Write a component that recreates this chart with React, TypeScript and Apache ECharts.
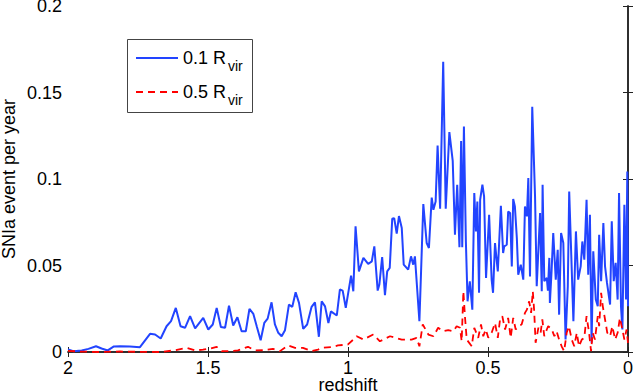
import React, { useEffect, useRef } from 'react';
import * as echarts from 'echarts';

// redshift (x) and SNIa event rate (y)
const blueZ = [2.0,1.981,1.951,1.927,1.900,1.880,1.858,1.836,1.814,1.779,
1.743,1.707,1.689,1.669,1.648,1.632,1.615,1.598,1.582,1.564,
1.546,1.517,1.499,1.483,1.469,1.454,1.439,1.425,1.410,1.395,
1.380,1.365,1.352,1.338,1.326,1.312,1.299,1.287,1.273,1.261,
1.249,1.237,1.225,1.211,1.199,1.187,1.175,1.160,1.146,1.130,
1.118,1.104,1.094,1.082,1.070,1.061,1.040,1.029,1.019,1.008,
0.989,0.981,0.973,0.961,0.945,0.928,0.915,0.906,0.894,0.888,
0.878,0.868,0.860,0.851,0.842,0.835,0.826,0.818,0.808,0.801,
0.785,0.775,0.767,0.761,0.745,0.731,0.719,0.711,0.701,0.695,
0.687,0.680,0.671,0.660,0.651,0.638,0.626,0.618,0.610,0.602,
0.596,0.592,0.586,0.579,0.573,0.565,0.556,0.549,0.543,0.538,
0.532,0.528,0.520,0.514,0.507,0.496,0.487,0.482,0.475,0.465,
0.454,0.446,0.442,0.433,0.428,0.421,0.415,0.410,0.404,0.397,
0.392,0.383,0.374,0.368,0.361,0.356,0.350,0.342,0.332,0.326,
0.314,0.308,0.305,0.299,0.290,0.286,0.281,0.279,0.273,0.267,
0.258,0.251,0.246,0.239,0.231,0.223,0.215,0.210,0.204,0.195,
0.186,0.178,0.169,0.163,0.156,0.148,0.142,0.136,0.130,0.124,
0.115,0.108,0.103,0.096,0.088,0.082,0.075,0.064,0.058,0.051,
0.044,0.037,0.032,0.025,0.020,0.013,0.007,0.0025,0];

const blueV = [0.0015,0.0005,0.0009,0.0018,0.0033,0.0020,0.0009,0.0032,0.0033,0.0032,
0.0028,0.0105,0.0101,0.0078,0.0149,0.0178,0.0255,0.0149,0.0140,0.0207,
0.0136,0.0197,0.0130,0.0159,0.0255,0.0145,0.0140,0.0268,0.0153,0.0201,
0.0120,0.0120,0.0249,0.0220,0.0149,0.0068,0.0168,0.0193,0.0287,0.0159,
0.0111,0.0091,0.0126,0.0274,0.0261,0.0345,0.0284,0.0134,0.0159,0.0261,
0.0287,0.0088,0.0293,0.0264,0.0168,0.0235,0.0211,0.0361,0.0355,0.0255,
0.0441,0.0351,0.0726,0.0466,0.0544,0.0509,0.0524,0.0611,0.0355,0.0390,
0.0549,0.0328,0.0466,0.0486,0.0770,0.0774,0.0684,0.0786,0.0717,0.0505,
0.0476,0.0553,0.0505,0.0553,0.0178,0.0855,0.0630,0.0601,0.0893,0.0822,
0.0870,0.1193,0.0828,0.1678,0.0828,0.1271,0.1105,0.0678,0.0967,0.0605,
0.1220,0.0605,0.1303,0.0639,0.0293,0.0409,0.0245,0.0919,0.0697,0.0870,
0.0342,0.0880,0.0967,0.0899,0.0428,0.0793,0.0418,0.0342,0.0630,0.0466,
0.0845,0.0572,0.0611,0.0620,0.0812,0.0803,0.0495,0.0884,0.0841,0.0659,
0.0447,0.0505,0.0418,0.0841,0.0784,0.1005,0.0437,0.1418,0.0899,0.0380,
0.0803,0.0351,0.0967,0.0409,0.0428,0.0355,0.0544,0.0284,0.0466,0.0688,
0.0418,0.0591,0.0216,0.0688,0.0630,0.0072,0.0380,0.0928,0.0630,0.0178,
0.0697,0.0418,0.0495,0.0639,0.0534,0.0880,0.0447,0.0793,0.0053,0.0582,
0.0303,0.0264,0.0678,0.0409,0.0746,0.0495,0.0399,0.0274,0.0755,0.0409,
0.0515,0.0303,0.0919,0.0264,0.0130,0.0851,0.0303,0.1043,0.0264];

const redZ = [2.0,1.957,1.886,1.814,1.743,1.671,1.618,1.576,1.546,1.518,
1.493,1.469,1.451,1.421,1.393,1.357,1.332,1.304,1.268,1.243,
1.214,1.189,1.161,1.130,1.107,1.094,1.058,1.036,1.001,0.981,
0.969,0.945,0.910,0.886,0.850,0.808,0.773,0.755,0.745,0.733,
0.713,0.695,0.678,0.660,0.642,0.624,0.612,0.600,0.594,0.588,
0.582,0.576,0.558,0.549,0.535,0.525,0.517,0.508,0.499,0.487,
0.475,0.465,0.457,0.449,0.439,0.428,0.419,0.410,0.401,0.392,
0.380,0.368,0.361,0.353,0.346,0.340,0.335,0.330,0.320,0.312,
0.306,0.299,0.290,0.285,0.273,0.263,0.255,0.246,0.237,0.228,
0.219,0.211,0.201,0.192,0.183,0.175,0.165,0.156,0.148,0.139,
0.132,0.126,0.118,0.108,0.103,0.096,0.090,0.082,0.074,0.064,
0.056,0.046,0.037,0.029,0.020,0.013,0.005,0];

const redV = [0.0006,0.0003,0,0.0003,0.0001,0,0.0010,0.0024,0.0009,0.0014,
0.0020,0.0030,0.0005,0.0005,0.0009,0.0030,0.0009,0.0010,0.0018,0.0005,
0.0038,0.0024,0.0024,0.0005,0.0014,0.0024,0.0028,0.0038,0.0043,0.0072,
0.0091,0.0072,0.0101,0.0062,0.0091,0.0072,0.0072,0.0082,0.0033,0.0159,
0.0101,0.0091,0.0140,0.0120,0.0126,0.0120,0.0149,0.0140,0.0062,0.0351,
0.0199,0.0072,0.0033,0.0140,0.0082,0.0159,0.0091,0.0130,0.0082,0.0111,
0.0168,0.0082,0.0188,0.0207,0.0130,0.0197,0.0082,0.0197,0.0130,0.0149,
0.0159,0.0226,0.0245,0.0293,0.0226,0.0351,0.0235,0.0053,0.0140,0.0111,
0.0188,0.0091,0.0130,0.0149,0.0134,0.0091,0.0120,0.0072,0.0033,0.0005,
0.0111,0.0149,0.0072,0.0033,0.0111,0.0033,0.0072,0.0082,0.0207,0.0111,
0.0005,0.0111,0.0072,0.0207,0.0149,0.0342,0.0264,0.0188,0.0111,0.0091,
0.0149,0.0072,0.0111,0.0197,0.0130,0.0072,0.0130,0.0053];

const seriesPrefix = ['0.1 R', '0.5 R'];
const seriesSub = 'vir';
const xAxisName = 'redshift';
const yAxisName = 'SNIa event per year';

const BLUE = '#2244ff';
const RED = '#ff0000';

export default function App() {
  const ref = useRef<HTMLDivElement>(null);
  useEffect(() => {
    const chart = echarts.init(ref.current!, null, { renderer: 'svg' });
    const font = 'Liberation Sans, Arial, Helvetica, sans-serif';
    const axisColor = '#222';
    const names = seriesPrefix.map((p) => p + seriesSub);
    const baseAxisLine = { show: true, lineStyle: { color: axisColor, width: 1.5 } };
    const tick = { show: true, inside: true, length: 5, lineStyle: { color: axisColor, width: 1 } };

    // legend drawn as graphic so the subscript and line styles match
    const legendRows = [
      { y: 58, color: BLUE, dash: null as number[] | null },
      { y: 92, color: RED, dash: [7, 5] },
    ];
    const legendChildren: any[] = [
      {
        type: 'rect',
        shape: { x: 127.5, y: 39.5, width: 125, height: 73 },
        style: { fill: '#fff', stroke: '#444', lineWidth: 1 },
      },
    ];
    legendRows.forEach((r, i) => {
      legendChildren.push({
        type: 'line',
        shape: { x1: 136, y1: r.y, x2: 178, y2: r.y },
        style: { stroke: r.color, lineWidth: 1.8, lineDash: r.dash || undefined },
      });
      legendChildren.push({
        type: 'text',
        x: 183,
        y: r.y,
        style: {
          text: seriesPrefix[i],
          fontFamily: font,
          fontSize: 18,
          fill: '#000',
          verticalAlign: 'middle',
          align: 'left',
        },
      });
      legendChildren.push({
        type: 'text',
        x: 228,
        y: r.y + 8,
        style: {
          text: seriesSub,
          fontFamily: font,
          fontSize: 14,
          fill: '#000',
          verticalAlign: 'middle',
          align: 'left',
        },
      });
    });

    chart.setOption({
      animation: false,
      backgroundColor: '#fff',
      textStyle: { fontFamily: font },
      grid: { left: 68, right: 6, top: 6, bottom: 40, outerBoundsMode: 'none', containLabel: false },
      graphic: [{ type: 'group', z: 100, children: legendChildren }],
      xAxis: [
        {
          type: 'value', min: 0, max: 2, interval: 0.5, inverse: true,
          name: xAxisName, nameLocation: 'middle', nameGap: 24, nameMoveOverlap: false,
          nameTextStyle: { fontFamily: font, fontSize: 18, color: '#000' },
          axisLine: baseAxisLine, axisTick: tick, splitLine: { show: false },
          axisLabel: { fontFamily: font, fontSize: 18, color: '#000', margin: 7 },
        },
        {
          type: 'value', min: 0, max: 2, interval: 0.5, inverse: true, position: 'top',
          axisLine: baseAxisLine, axisTick: tick, splitLine: { show: false },
          axisLabel: { show: false },
        },
      ],
      yAxis: [
        {
          type: 'value', min: 0, max: 0.2, interval: 0.05,
          name: yAxisName, nameLocation: 'middle', nameGap: 50, nameMoveOverlap: false,
          nameTextStyle: { fontFamily: font, fontSize: 18, color: '#000' },
          axisLine: baseAxisLine, axisTick: tick, splitLine: { show: false },
          axisLabel: { fontFamily: font, fontSize: 18, color: '#000', margin: 6 },
        },
        {
          type: 'value', min: 0, max: 0.2, interval: 0.05, position: 'right',
          axisLine: baseAxisLine, axisTick: tick, splitLine: { show: false },
          axisLabel: { show: false },
        },
      ],
      series: [
        {
          name: names[0], type: 'line', xAxisIndex: 0, yAxisIndex: 0,
          symbol: 'none', showSymbol: false,
          data: blueZ.map((z, i) => [z, blueV[i]]),
          lineStyle: { color: BLUE, width: 2 },
          itemStyle: { color: BLUE },
          z: 3,
        },
        {
          name: names[1], type: 'line', xAxisIndex: 0, yAxisIndex: 0,
          symbol: 'none', showSymbol: false,
          data: redZ.map((z, i) => [z, redV[i]]),
          lineStyle: { color: RED, width: 1.8, type: [7, 5] },
          itemStyle: { color: RED },
          z: 4,
        },
      ],
    });
    return () => chart.dispose();
  }, []);
  return <div ref={ref} style={{ position: 'fixed', left: 0, top: 0, width: 634, height: 392 }} />;
}
